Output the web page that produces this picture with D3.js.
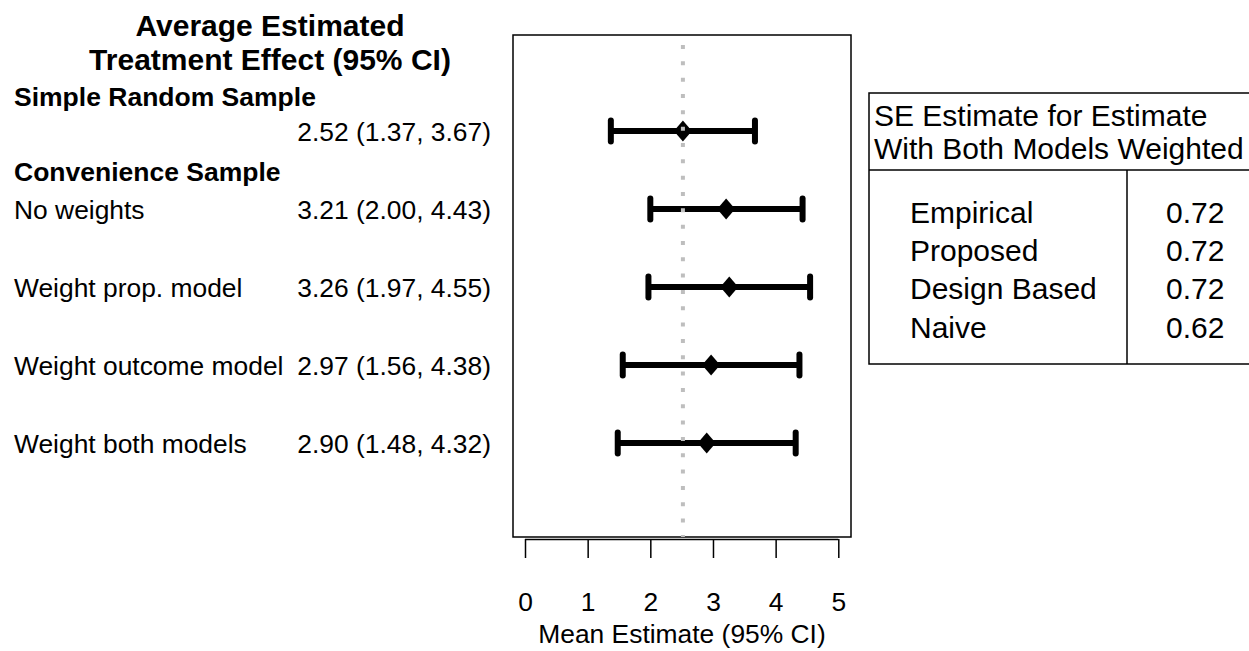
<!DOCTYPE html>
<html>
<head>
<meta charset="utf-8">
<script src="https://cdn.jsdelivr.net/npm/d3@7"></script>
<style>
  html, body { margin: 0; padding: 0; background: #fff; }
  svg { display: block; }
  text { font-family: "Liberation Sans", Arial, Helvetica, sans-serif; fill: #000; }
</style>
</head>
<body>
<svg id="chart" width="1249" height="651"></svg>
<script>
// Forest plot rows
const rowLabels = ["", "No weights", "Weight prop. model", "Weight outcome model", "Weight both models"];
const estimates = [2.52, 3.21, 3.26, 2.97, 2.90];
const lowerCI   = [1.37, 2.00, 1.97, 1.56, 1.48];
const upperCI   = [3.67, 4.43, 4.55, 4.38, 4.32];
const refValue  = 2.52;   // SRS estimate drawn as the dotted reference line
const xTicks    = [0, 1, 2, 3, 4, 5];

// SE comparison table
const seMethods = ["Empirical", "Proposed", "Design Based", "Naive"];
const seValues  = [0.72, 0.72, 0.72, 0.62];

const svg = d3.select("#chart");

const x = d3.scaleLinear().domain([0, 5]).range([525, 838.3]);
const y = d3.scaleLinear().domain([-1.231, 5.205]).range([35, 537]);

const fmt = d3.format(".2f");
const ciText = i => `${fmt(estimates[i])} (${fmt(lowerCI[i])}, ${fmt(upperCI[i])})`;

const fsTitle = 30, fsHead = 26.5, fsRow = 26.4, fsTable = 30;

// ---- left-hand text panel ----
const left = svg.append("g");
left.append("text").attr("x", 270).attr("y", 25).attr("dy", "0.36em")
  .attr("text-anchor", "middle").attr("font-weight", "bold").attr("font-size", fsTitle)
  .text("Average Estimated");
left.append("text").attr("x", 270).attr("y", 59).attr("dy", "0.36em")
  .attr("text-anchor", "middle").attr("font-weight", "bold").attr("font-size", fsTitle)
  .text("Treatment Effect (95% CI)");
left.append("text").attr("x", 14).attr("y", 96).attr("dy", "0.36em")
  .attr("font-weight", "bold").attr("font-size", fsHead)
  .text("Simple Random Sample");
left.append("text").attr("x", 14).attr("y", 171).attr("dy", "0.36em")
  .attr("font-weight", "bold").attr("font-size", fsHead)
  .text("Convenience Sample");

const rowsG = left.selectAll("g.row").data(d3.range(estimates.length)).join("g").attr("class", "row");
rowsG.append("text").attr("x", 14).attr("y", i => y(i)).attr("dy", "0.36em")
  .attr("font-size", fsRow).text(i => rowLabels[i]);
rowsG.append("text").attr("x", 491).attr("y", i => y(i)).attr("dy", "0.36em")
  .attr("text-anchor", "end").attr("font-size", fsRow).text(i => ciText(i));

// ---- plot panel ----
const plot = svg.append("g");
plot.append("rect").attr("x", 513).attr("y", y.range()[0])
  .attr("width", 851 - 513).attr("height", y.range()[1] - y.range()[0])
  .attr("fill", "none").attr("stroke", "#000").attr("stroke-width", 1.5);

const bars = plot.selectAll("g.bar").data(d3.range(estimates.length)).join("g").attr("class", "bar");
bars.append("line")
  .attr("x1", i => x(lowerCI[i])).attr("x2", i => x(upperCI[i]))
  .attr("y1", i => y(i)).attr("y2", i => y(i))
  .attr("stroke", "#000").attr("stroke-width", 6);
[lowerCI, upperCI].forEach(arr => {
  bars.append("line")
    .attr("x1", i => x(arr[i])).attr("x2", i => x(arr[i]))
    .attr("y1", i => y(i) - 10.5).attr("y2", i => y(i) + 10.5)
    .attr("stroke", "#000").attr("stroke-width", 6).attr("stroke-linecap", "round");
});
bars.append("path")
  .attr("d", i => {
    const cx = x(estimates[i]), cy = y(i), w = 9, h = 10.5;
    return `M${cx},${cy - h}L${cx + w},${cy}L${cx},${cy + h}L${cx - w},${cy}Z`;
  })
  .attr("fill", "#000");

// dotted reference line, drawn over the bars
plot.append("line")
  .attr("x1", x(refValue)).attr("x2", x(refValue))
  .attr("y1", y.range()[0]).attr("y2", y.range()[1])
  .attr("stroke", "#bebebe").attr("stroke-width", 4)
  .attr("stroke-dasharray", "4,12.33").attr("stroke-dashoffset", 6.33);

// x axis below the box
const axisG = plot.append("g").attr("transform", "translate(0,539)");
axisG.call(d3.axisBottom(x).tickValues(xTicks).tickSize(19).tickPadding(34.5).tickFormat(d3.format("d")));
axisG.select(".domain").attr("stroke", "#000").attr("stroke-width", 1.5)
  .attr("d", `M${x(0)},0.5H${x(5)}`);
axisG.selectAll(".tick line").attr("stroke", "#000").attr("stroke-width", 1.5);
axisG.selectAll(".tick text").attr("font-size", fsRow).attr("font-family", null).attr("fill", "#000");

plot.append("text").attr("x", (513 + 851) / 2).attr("y", 633).attr("dy", "0.36em")
  .attr("text-anchor", "middle").attr("font-size", fsRow)
  .text("Mean Estimate (95% CI)");

// ---- SE table ----
const tbl = svg.append("g");
const tL = 869, tT = 93, tMid = 170, tB = 364, tR = 1262, tCol = 1127;
tbl.append("rect").attr("x", tL).attr("y", tT).attr("width", tR - tL).attr("height", tB - tT)
  .attr("fill", "none").attr("stroke", "#000").attr("stroke-width", 1.5);
tbl.append("line").attr("x1", tL).attr("x2", tR).attr("y1", tMid).attr("y2", tMid)
  .attr("stroke", "#000").attr("stroke-width", 1.5);
tbl.append("line").attr("x1", tCol).attr("x2", tCol).attr("y1", tMid).attr("y2", tB)
  .attr("stroke", "#000").attr("stroke-width", 1.5);
tbl.append("text").attr("x", 874).attr("y", 115).attr("dy", "0.36em").attr("font-size", fsTable)
  .text("SE Estimate for Estimate");
tbl.append("text").attr("x", 874).attr("y", 148).attr("dy", "0.36em").attr("font-size", fsTable)
  .text("With Both Models Weighted");

const ty = d3.scalePoint().domain(seMethods).range([212, 327]);
tbl.selectAll("text.m").data(seMethods).join("text").attr("class", "m")
  .attr("x", 910).attr("y", d => ty(d)).attr("dy", "0.36em").attr("font-size", fsTable).text(d => d);
tbl.selectAll("text.v").data(seValues).join("text").attr("class", "v")
  .attr("x", 1166).attr("y", (d, i) => ty(seMethods[i])).attr("dy", "0.36em").attr("font-size", fsTable)
  .text(d => fmt(d));
</script>
</body>
</html>
